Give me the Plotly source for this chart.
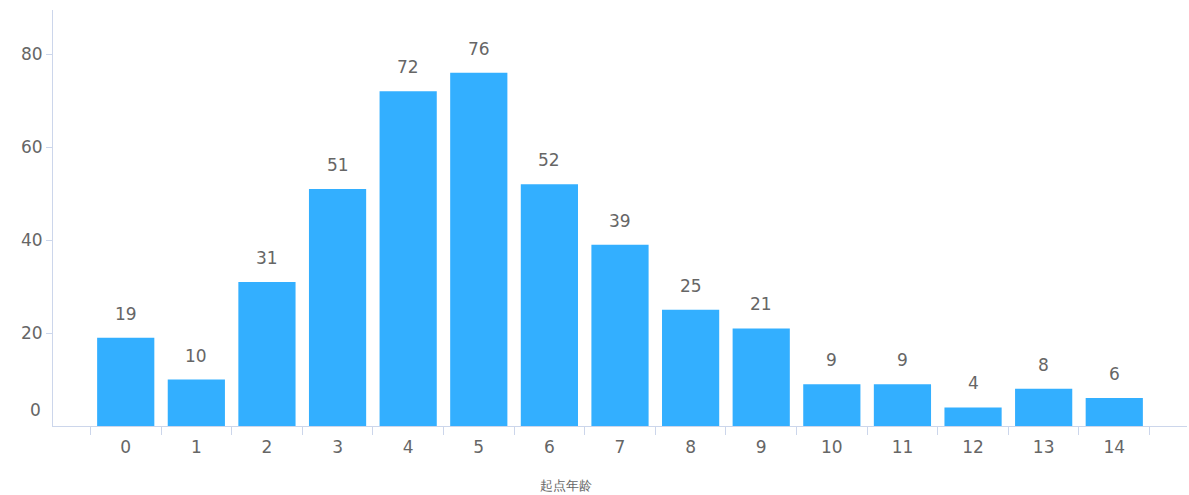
import plotly.graph_objects as go

categories = [str(i) for i in range(15)]
values = [19, 10, 31, 51, 72, 76, 52, 39, 25, 21, 9, 9, 4, 8, 6]
y_ticks = [20, 40, 60, 80]
x_title = "起点年龄"

font_family = "DejaVu Sans, Verdana, sans-serif"
gray = "#666666"
axis_col = "#ccd6eb"

fig = go.Figure()
fig.add_trace(go.Bar(
    x=categories, y=values,
    marker=dict(color="#33afff", line=dict(width=0)),
    hoverinfo="x+y",
))

for c, v in zip(categories, values):
    fig.add_annotation(x=c, y=v, text=str(v), showarrow=False,
                       yanchor="bottom", yshift=12,
                       font=dict(family=font_family, size=17, color=gray))

fig.add_annotation(xref="paper", yref="y", x=0, y=3.4, text="0", showarrow=False,
                   xanchor="right", xshift=-10,
                   font=dict(family=font_family, size=17, color=gray))

fig.add_annotation(xref="paper", yref="paper", x=0.452, y=0, yshift=-59,
                   text=x_title, showarrow=False, xanchor="center", yanchor="middle",
                   font=dict(family=font_family, size=13, color=gray))

fig.update_layout(
    width=1189, height=495,
    margin=dict(l=53, r=2, t=10, b=69),
    plot_bgcolor="white", paper_bgcolor="white",
    bargap=0.19,
    showlegend=False,
    font=dict(family=font_family, color=gray),
    xaxis=dict(
        type="category", range=[-1.03, 15.03],
        showline=True, linecolor=axis_col, linewidth=1,
        ticks="outside", tickson="boundaries", ticklen=8, tickcolor=axis_col,
        tickfont=dict(size=17, color=gray), ticklabelstandoff=6,
        showgrid=False, zeroline=False,
    ),
    yaxis=dict(
        range=[0, 89.5],
        tickvals=y_ticks,
        showline=True, linecolor=axis_col, linewidth=1,
        ticks="outside", ticklen=6, tickcolor=axis_col,
        tickfont=dict(size=17, color=gray),
        showgrid=False, zeroline=False,
    ),
)

fig.write_html("out.html")
